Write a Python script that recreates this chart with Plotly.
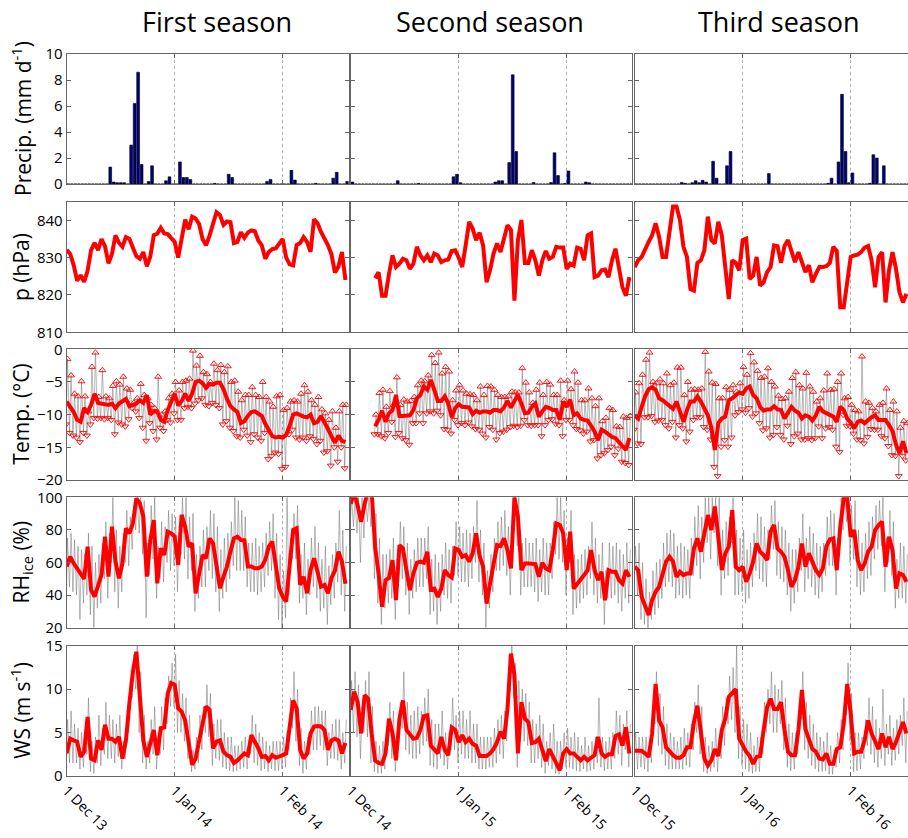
import plotly.graph_objects as go

# ---------------- data (daily values, day 0 = 1 Dec) ----------------
seasons = ["First season", "Second season", "Third season"]
tick_text = [["1 Dec 13", "1 Jan 14", "1 Feb 14"],
             ["1 Dec 14", "1 Jan 15", "1 Feb 15"],
             ["1 Dec 15", "1 Jan 16", "1 Feb 16"]]
tick_days = [0, 31, 62]

precip1 = [0,0,0,0,0,0,0,0,0,0,
           0,0,1.3,0.15,0.1,0.1,0.1,0,3.0,6.2,
           8.6,1.5,0,0.2,1.4,0,0,0,0.25,0.55,
           0,0,1.7,0.5,0.5,0.35,0,0,0,0,
           0,0,0.05,0,0,0,0.75,0.5,0,0,
           0,0,0,0,0,0,0,0.2,0.35,0,
           0,0,0,0,1.05,0.3,0,0,0,0,
           0,0.05,0,0,0,0,0.45,0.9,0,0,
           0.2]
precip2 = [0.15,0,0,0,0,0,0,0,0,0,
           0,0,0,0.25,0,0,0,0,0,0.05,
           0,0,0,0,0,0,0,0,0,0.55,
           0.75,0.1,0,0,0,0,0,0,0,0,
           0,0.15,0.25,0.25,0,1.65,8.4,2.5,0,0,
           0,0,0.12,0,0,0,0,0.12,2.4,0.65,
           0,0.05,1.0,0,0,0,0,0.15,0.1,0,
           0,0,0,0,0,0,0,0,0,0,
           0]
precip3 = [0,0,0,0,0,0,0,0,0,0,
           0,0,0,0.12,0.05,0,0.1,0.25,0.1,0.28,
           0.15,0,1.75,0.45,0,0,1.4,2.5,0,0,
           0,0,0,0,0,0,0,0,0.8,0,
           0,0,0,0,0,0,0,0,0,0,
           0,0,0,0,0,0.05,0.45,0,1.7,6.9,
           2.5,0.1,0.85,0,0,0,0,0.05,2.25,2.0,
           0,1.4,0,0,0,0,0,0,0]

pres1 = [832.1,831.0,828.0,823.8,825.3,823.5,826.5,832.0,834.0,832.0,
         835.0,833.0,828.5,831.0,836.0,834.0,832.9,835.5,835.0,832.8,
         830.4,829.7,831.5,827.7,830.3,836.0,836.4,838.0,836.5,836.3,
         835.2,834.2,830.0,835.0,840.2,837.6,841.0,840.5,839.0,835.0,
         833.3,835.9,839.3,842.2,841.4,838.8,839.7,839.5,833.9,834.2,
         836.8,835.3,836.7,837.3,837.1,834.6,833.3,829.7,831.5,832.3,
         832.5,834.0,835.0,830.0,828.2,827.9,833.4,833.9,835.5,834.2,
         831.6,840.3,839.2,836.9,835.2,833.3,830.9,826.0,827.6,831.5,
         824.0]
pres2 = [None]*7 + [824.5,826.1,819.8,
         819.8,825.7,830.6,827.5,828.4,829.7,829.3,827.0,828.4,832.9,
         830.6,829.3,830.6,828.8,831.1,830.6,828.8,829.3,829.5,831.8,
         832.0,830.0,827.5,833.3,839.6,837.8,834.7,836.7,833.3,823.4,
         826.6,831.1,833.8,831.5,835.1,838.7,837.4,818.5,834.7,840.1,
         828.6,828.6,832.0,829.3,825.2,829.3,831.8,829.7,830.2,832.9,
         832.7,832.7,827.0,828.4,827.9,832.7,832.4,829.3,836.0,836.5,
         824.8,825.2,826.6,826.8,824.8,829.3,832.4,827.0,822.1,819.8,
         824.8]
pres3 = [827.5,829.3,830.2,832.4,834.2,836.0,839.2,835.6,830.2,830.2,
         836.5,843.7,843.7,840.0,832.9,830.2,821.6,821.2,828.6,829.3,
         832.0,841.0,834.7,833.8,839.6,836.0,827.5,818.9,829.3,828.6,
         826.6,834.7,835.1,824.3,825.2,830.2,822.5,823.4,826.1,827.5,
         833.3,833.1,828.6,833.1,834.7,832.0,828.8,831.5,828.4,826.1,
         828.0,823.4,825.7,827.5,827.5,827.7,828.6,832.9,831.8,816.7,
         816.7,823.9,830.2,830.6,830.8,831.5,832.7,833.1,829.3,822.1,
         830.2,831.5,818.0,826.6,831.5,827.0,820.7,818.0,820.3]

tmean1 = [-8.0,-8.8,-9.6,-10.8,-11.1,-9.0,-9.6,-8.5,-6.8,-8.2,
          -8.3,-8.3,-8.5,-8.3,-9.0,-8.3,-8.0,-7.6,-8.7,-8.5,
          -8.3,-7.8,-8.2,-7.0,-10.0,-9.5,-9.5,-10.8,-11.1,-9.3,
          -7.9,-6.8,-8.6,-7.9,-6.8,-7.9,-6.8,-5.0,-4.8,-5.2,
          -5.9,-5.3,-5.4,-5.1,-5.1,-6.1,-7.6,-8.7,-9.2,-9.6,
          -11.3,-11.0,-10.2,-9.6,-9.5,-9.8,-10.2,-11.4,-12.3,-13.3,
          -13.5,-13.4,-13.5,-13.1,-11.7,-10.0,-9.8,-10.1,-10.3,-10.4,
          -10.0,-11.3,-11.1,-10.2,-11.1,-12.2,-13.3,-14.3,-13.2,-14.0,
          -14.2]
tmax1 = [-1.5,-4.0,-6.8,-7.2,-4.9,-7.2,-9.5,-2.7,-0.5,-7.3,
         -3.2,-7.2,-7.5,-5.6,-4.9,-5.4,-4.2,-6.0,-6.2,-8.2,
         -7.5,-5.3,-7.0,-7.5,-8.5,-9.0,-4.2,-10.0,-9.5,-7.5,
         -6.8,-5.0,-6.3,-5.0,-4.8,-4.5,-0.2,-2.5,-1.0,-3.5,
         -3.8,-5.0,-2.2,-3.2,-2.4,-3.5,-2.6,-5.0,-4.8,-6.5,
         -7.8,-7.0,-7.0,-5.8,-7.0,-7.3,-5.0,-7.3,-8.0,-8.8,
         -7.2,-7.0,-9.3,-9.0,-8.0,-7.8,-8.0,-6.8,-5.5,-6.5,
         -7.8,-8.5,-7.3,-9.2,-9.8,-10.8,-9.5,-12.0,-9.5,-8.5,
         -8.5]
tmin1 = [-11.5,-12.8,-13.2,-13.5,-14.2,-12.8,-13.2,-11.5,-10.5,-10.6,
         -10.5,-10.7,-10.5,-10.8,-13.0,-11.2,-11.5,-11.8,-10.7,-9.0,
         -9.5,-10.5,-12.0,-14.0,-11.3,-12.5,-13.8,-12.0,-12.5,-10.8,
         -11.2,-9.8,-10.8,-10.8,-9.0,-8.8,-9.0,-8.3,-7.8,-7.5,
         -8.5,-8.7,-8.2,-8.5,-9.0,-11.5,-11.0,-12.0,-12.5,-13.3,
         -13.5,-12.3,-13.2,-14.2,-13.0,-13.5,-14.0,-12.8,-16.8,-16.3,
         -15.8,-16.0,-18.3,-18.0,-13.0,-12.3,-13.5,-13.8,-13.5,-14.0,
         -13.3,-13.7,-14.5,-14.0,-15.8,-15.6,-17.8,-15.0,-17.2,-15.0,
         -18.2]

tmean2 = [None]*7 + [-11.8,-10.8,-9.4,
          -11.1,-9.8,-9.3,-7.0,-10.2,-10.2,-10.2,-10.1,-9.3,-7.5,
          -7.0,-5.7,-6.2,-4.7,-6.2,-7.9,-7.9,-7.2,-8.3,-10.4,
          -9.0,-8.4,-8.8,-8.9,-8.9,-9.9,-9.4,-9.7,-9.5,-9.5,
          -9.7,-9.3,-9.3,-9.5,-8.9,-7.9,-8.9,-7.9,-7.0,-8.3,
          -9.8,-9.7,-8.8,-8.3,-10.3,-9.5,-8.8,-9.0,-9.3,-9.3,
          -10.8,-8.0,-8.8,-7.7,-10.1,-9.8,-10.6,-10.8,-10.9,-11.7,
          -12.6,-13.9,-12.3,-12.6,-13.1,-13.4,-13.6,-14.1,-14.8,-15.4,
          -13.6]
tmax2 = [None]*7 + [-10.0,-6.7,-6.2,
         -8.8,-6.4,-8.5,-4.3,-8.5,-7.7,-8.0,-7.9,-7.3,-5.5,
         -4.8,-4.9,-4.0,-0.9,-2.1,-0.5,-3.7,-2.7,-3.4,-7.8,
         -6.3,-5.5,-6.3,-6.8,-6.9,-7.0,-7.8,-5.7,-7.0,-5.6,
         -5.7,-6.2,-7.0,-7.3,-7.3,-7.2,-6.5,-6.6,-6.6,-2.9,
         -5.1,-6.6,-8.2,-6.2,-5.1,-7.0,-5.0,-5.4,-7.0,-7.0,
         -4.8,-7.8,-4.8,-6.1,-3.4,-5.1,-7.8,-7.8,-6.0,-7.5,
         -8.7,-7.5,-11.0,-10.5,-9.0,-9.3,-11.8,-11.9,-10.3,-10.5,
         -10.2]
tmin2 = [None]*7 + [-13.0,-13.0,-13.3,
         -13.6,-12.8,-11.1,-13.4,-12.8,-13.6,-13.9,-14.6,-11.3,-11.3,
         -9.8,-11.3,-9.8,-9.5,-9.8,-9.4,-10.1,-12.2,-12.3,-12.9,
         -10.8,-11.6,-11.3,-11.6,-11.2,-11.8,-12.2,-12.3,-12.9,-13.5,
         -11.9,-12.3,-13.8,-12.8,-12.6,-12.3,-11.9,-11.7,-11.9,-11.7,
         -10.8,-11.6,-11.7,-11.6,-11.6,-13.3,-11.6,-10.8,-10.7,-11.4,
         -11.6,-13.3,-10.8,-10.8,-11.6,-12.2,-12.4,-12.9,-12.6,-14.1,
         -13.9,-16.7,-16.2,-15.9,-15.4,-14.9,-16.2,-15.2,-17.2,-17.4,
         -17.7]

tmean3 = [-10.1,-10.6,-8.8,-7.2,-6.1,-5.8,-6.2,-7.5,-7.8,-8.3,
          -8.7,-9.1,-8.0,-9.5,-11.1,-9.3,-8.0,-8.0,-7.2,-8.0,
          -9.0,-10.1,-12.0,-15.4,-11.3,-10.6,-10.3,-7.8,-7.5,-7.0,
          -6.6,-6.8,-6.0,-5.7,-7.0,-7.5,-8.8,-9.4,-9.2,-9.2,
          -8.7,-9.2,-9.3,-10.6,-9.8,-8.8,-9.4,-9.7,-10.6,-10.1,
          -10.3,-10.9,-10.1,-8.8,-9.5,-9.8,-10.1,-10.3,-11.1,-8.8,
          -9.3,-10.6,-11.2,-12.1,-11.1,-10.9,-11.3,-10.8,-10.4,-10.1,
          -10.8,-10.8,-10.8,-11.6,-12.5,-14.6,-15.9,-14.1,-15.9]
tmax3 = [-6.6,-5.2,-3.9,-1.6,-0.5,-5.0,-5.2,-4.6,-5.2,-3.7,
         -5.5,-5.1,-2.8,-2.8,-7.0,-5.0,-6.2,-6.1,-6.2,-6.0,
         -0.4,-3.4,-5.1,-5.3,-7.5,-7.5,-5.8,-6.2,-5.5,-6.5,
         -5.2,-2.7,-3.9,-0.6,-2.0,-3.3,-4.4,-4.2,-2.9,-5.0,
         -5.7,-7.1,-7.6,-7.5,-6.5,-4.4,-3.5,-5.5,-6.0,-3.6,
         -5.7,-6.5,-8.0,-7.5,-6.3,-3.7,-6.2,-6.1,-5.0,-3.7,
         -7.5,-7.3,-8.5,-9.3,-9.5,-1.1,-8.0,-8.2,-9.0,-9.5,
         -8.5,-8.2,-6.0,-9.3,-8.0,-9.5,-12.0,-11.0,-11.3]
tmin3 = [-12.3,-14.4,-14.5,-10.4,-10.4,-10.2,-11.1,-10.9,-10.8,-11.6,
         -12.1,-11.1,-13.5,-11.6,-12.1,-14.1,-12.6,-10.8,-10.4,-10.4,
         -11.9,-12.3,-13.8,-18.0,-19.4,-14.9,-13.9,-14.9,-13.5,-10.1,
         -9.6,-9.2,-9.7,-9.0,-10.3,-9.8,-11.3,-12.4,-12.1,-13.5,
         -13.1,-11.9,-13.1,-13.8,-11.7,-14.5,-13.3,-12.9,-13.8,-13.8,
         -13.6,-13.9,-13.6,-11.8,-13.6,-12.1,-11.9,-12.3,-14.9,-15.7,
         -10.0,-11.7,-11.8,-12.9,-13.8,-13.9,-14.4,-13.4,-12.2,-12.3,
         -12.3,-13.3,-13.6,-14.8,-16.2,-16.3,-19.4,-16.3,-17.0]

rh1 = [57.5,63.6,59.5,56.4,52.4,50.0,69.7,43.1,39.1,45.2,
       52.4,75.9,51.3,82.0,60.5,50.3,59.5,81.0,77.9,84.0,
       99.4,96.3,88.1,51.3,73.8,86.0,47.2,68.7,64.6,78.9,
       77.9,75.9,58.5,89.2,82.0,69.7,71.8,41.1,53.4,64.6,
       62.6,74.8,71.8,59.5,44.2,51.3,57.5,66.7,74.8,75.9,
       73.8,73.6,57.5,57.5,56.4,56.4,57.5,61.6,69.7,72.8,
       57.5,44.2,39.1,36.0,58.5,80.0,81.0,46.2,51.3,41.1,
       55.4,62.6,54.4,45.2,46.2,41.1,50.5,55.0,66.7,60.5,
       47.0]
rh1_max = [75,78,74,70,68,65,78,70,60,65,
           72,85,78,100,80,70,78,92,88,95,
           100,100,98,72,95,100,70,85,82,92,
           90,88,78,100,100,88,90,65,70,80,
           82,92,90,82,68,75,78,85,100,98,
           92,88,72,72,75,70,72,78,85,90,
           78,65,55,100,75,90,95,65,72,62,
           75,82,72,62,70,58,65,72,92,80,
           70]
rh1_min = [30,45,42,40,25,35,40,28,20,32,
           35,50,38,60,42,32,42,60,58,68,
           80,78,65,26,52,62,38,50,48,60,
           55,58,42,65,62,50,55,30,38,45,
           45,55,50,42,30,38,42,50,58,55,
           55,55,45,42,42,40,42,45,52,55,
           38,25,20,26,40,62,62,35,38,28,
           40,45,38,30,32,22,34,38,48,40,
           30]
rh2 = [96.0,103.0,95.0,85.0,96.0,104.0,104.0,69.7,53.3,32.8,
       49.2,50.5,61.5,36.9,70.7,68.6,55.3,43.0,53.3,59.8,
       60.5,59.8,66.6,43.4,44.0,38.9,44.0,55.3,52.3,50.8,
       68.6,67.6,63.5,64.5,60.5,65.6,77.9,63.9,57.4,34.8,
       47.1,59.8,70.7,70.1,74.8,67.6,56.4,100.0,88.1,55.3,
       59.4,59.4,59.4,59.0,51.2,59.8,56.4,55.3,67.6,84.0,
       83.0,77.9,55.3,78.9,44.0,47.1,50.2,52.3,55.3,67.6,
       55.3,49.2,54.3,36.9,55.3,54.3,54.3,49.2,47.1,55.3,
       51.2]
rh2_max = [100,100,100,100,100,100,100,90,75,65,
           65,68,75,62,85,82,72,62,68,75,
           75,75,82,62,65,60,65,72,68,70,
           85,82,78,80,78,82,98,80,72,55,
           65,75,85,88,92,82,75,100,100,72,
           75,72,72,75,68,75,72,72,85,100,
           100,92,75,92,65,62,65,68,70,85,
           75,65,72,55,72,70,72,68,65,72,
           68]
rh2_min = [80,82,78,60,75,85,82,50,35,22,
           32,35,38,25,52,50,40,28,38,42,
           45,45,50,28,30,22,30,40,38,35,
           52,52,48,48,45,50,60,48,40,20,
           32,42,55,55,58,52,40,78,70,40,
           45,45,45,42,36,42,40,40,50,65,
           62,60,40,60,28,32,35,38,40,50,
           40,35,38,22,38,38,40,35,30,38,
           35]
rh3 = [57.4,55.3,38.9,33.8,27.7,36.9,42.0,45.1,53.3,60.5,
       63.5,60.5,51.2,54.3,52.3,53.3,53.3,68.6,74.8,66.6,
       77.9,89.1,79.9,94.3,75.8,55.3,65.6,69.7,92.2,57.4,
       55.3,57.4,48.2,53.3,60.5,71.7,66.6,64.5,61.5,78.9,
       83.0,68.6,66.6,63.5,55.3,45.1,49.2,57.4,71.7,57.4,
       65.6,60.5,55.3,52.3,56.4,69.7,74.2,74.8,55.3,82.0,
       99.4,100.0,75.8,79.9,61.5,55.3,59.4,66.6,69.7,79.9,
       83.0,85.0,57.4,75.8,67.6,44.0,53.3,52.3,48.2]
rh3_max = [70,72,60,50,42,55,60,62,72,78,
           80,78,70,72,70,68,75,88,95,88,
           100,100,100,100,100,80,85,88,100,80,
           75,80,68,72,78,90,88,82,80,95,
           98,85,82,80,72,68,68,75,90,75,
           82,78,72,70,72,88,92,90,75,100,
           100,100,95,98,80,72,78,85,88,95,
           98,100,75,92,85,62,72,70,65]
rh3_min = [42,40,25,22,18,25,28,32,38,45,
           48,45,38,40,38,40,38,52,58,50,
           60,72,62,78,58,40,50,52,72,40,
           40,42,35,38,45,55,50,48,45,62,
           68,52,50,48,40,30,35,42,55,42,
           50,45,40,38,42,52,58,58,40,65,
           80,85,60,62,45,40,42,50,52,62,
           68,70,42,60,52,32,38,38,35]

ws1 = [2.6,4.3,4.1,3.95,2.2,2.8,6.8,2.0,1.8,4.1,
       3.0,5.9,4.3,4.3,3.95,4.5,2.0,4.1,8.4,12.0,
       14.3,8.4,4.1,2.2,3.6,5.3,2.4,5.5,5.6,9.5,
       10.7,10.5,7.8,7.4,6.4,4.1,1.3,2.0,4.1,6.1,
       8.0,7.6,3.2,3.95,4.1,2.8,2.4,2.2,1.5,1.8,
       2.2,2.6,2.4,4.7,3.95,3.2,2.2,2.3,1.8,2.4,
       2.1,2.2,2.4,2.6,6.1,8.7,7.8,3.0,2.0,2.6,
       4.9,5.7,5.75,5.7,5.3,3.0,4.1,4.3,4.1,2.6,
       3.8]
ws1_max = [6.5,7.5,6,5.5,5,5,9,4,4.5,7,
           5.5,8.5,7,6.5,6,7,4,6.5,11,14,
           15,12,7,4,6.5,8,5,8,9,11.5,
           13,14,11,9.5,9,7,3,4.5,7,8,
           10.5,9.5,6,6.5,6.5,5,4.5,4.5,3.5,3.5,
           4,4.5,4,7,6,5,4.5,4,3.5,4,
           4,4,4.5,5,9,12,10,5.5,4,4.5,
           7.5,8,8,7.5,7.5,5,6,6.5,6.5,5,
           6.5]
ws1_min = [0.5,1.5,1.5,1.5,0.8,1,2.5,0.5,0.3,1.5,
           1.2,2.5,2,2,1.5,2.2,0.8,2,5,9,
           10,5,1.5,0.8,1.5,2.5,0.8,2.5,3,6,
           8,8,5,5,4,2,0.5,0.8,1.5,3,
           5,4.5,1.2,2,1.8,1,0.8,0.6,0.5,0.6,
           0.8,1,0.8,2.5,1.5,1.2,0.6,0.8,0.5,0.8,
           0.6,0.6,0.8,1,3,5.5,4,1.2,0.3,0.8,
           2.5,3,3,3.5,3,1.2,2,2,1.8,0.8,
           1.5]
ws2 = [7.6,9.7,8.5,4.9,9.3,8.9,4.9,1.8,1.5,1.4,
       2.6,6.6,4.9,1.8,6.6,8.7,5.3,4.7,4.3,4.4,
       5.3,6.9,7.0,3.5,3.1,2.6,4.5,3.0,2.4,5.6,
       5.3,3.9,4.7,3.9,4.3,3.7,3.5,2.3,2.3,2.3,
       2.6,3.1,3.9,5.1,4.3,7.7,14.1,11.6,2.6,8.5,
       6.6,6.2,3.8,3.9,4.3,3.0,1.7,3.1,2.3,1.5,
       0.65,2.6,3.1,2.6,2.6,2.2,1.8,2.2,1.8,2.1,
       2.4,4.5,2.6,2.2,2.5,2.5,4.6,4.8,3.5,5.6,
       2.6]
ws2_max = [11,12,10.5,8,11,12,8,4,3.5,4,
           5,8.5,7.5,4,8.5,12,8.5,7,7.5,8,
           7.5,9,10,6.5,6,6,7.5,5,5,9,
           7,7.5,7.5,6.5,7.5,6,6,4.5,4.5,4.5,
           4.5,5.5,6.5,7,7.5,8.5,15,13,11,10,
           9.5,8.5,6.5,6,7,6,4,5,6,4,
           4,5,5.5,4.5,5,4.5,3.5,4.5,3.5,4,
           4.5,9,4.5,4,4.5,5,7.5,7,6,7.5,
           6]
ws2_min = [4,5,4.5,2,5,4.5,1.5,0.5,0.3,0.3,
           0.8,3.5,2,0.5,3.5,5.5,3,2.5,2,2,
           2.5,3.5,4,1.2,1,0.8,2,1.2,0.8,3,
           3,1.5,2.5,2,2,1.5,1.5,0.8,0.8,0.8,
           1,1,1.5,2.5,2,4,10,9,1,5.5,
           4,3.5,1.5,1.5,2,1,0.3,1.2,0.8,0.3,
           0.2,0.8,1,1,0.8,0.6,0.5,0.8,0.5,0.6,
           0.8,1.5,1,0.6,0.8,0.8,2,2.5,1.2,3,
           1]
ws3 = [2.9,2.9,2.9,2.6,2.2,4.9,10.6,6.4,5.6,3.3,
       2.8,2.4,2.1,2.1,2.4,3.3,3.3,6.2,8.1,5.3,
       2.0,1.2,1.8,3.1,2.3,5.3,6.6,9.1,9.5,10.0,
       4.3,3.5,2.8,2.3,1.4,2.2,2.3,5.3,7.9,8.9,
       7.7,7.7,8.5,5.3,2.8,2.4,2.4,5.3,9.9,5.4,
       4.1,3.1,2.8,2.0,1.9,2.6,1.4,1.4,3.1,3.3,
       6.0,10.6,7.2,2.6,2.8,2.8,4.1,6.4,4.9,3.9,
       3.1,4.9,3.3,4.5,3.1,3.9,4.9,6.2,4.9]
ws3_max = [5,4.5,4.5,4.5,4,7.5,12,9.5,8,6,
           5,4.5,4,4.5,5.5,5,6,8.5,10.5,8,
           4.5,3.5,4,5.5,4.5,8,9,11.5,12.5,15,
           8,6.5,6,5,3.5,4.5,4.5,8.5,10,12,
           10.5,10,11,9,6,5,5,8,12,8.5,
           7,6,5,4.5,4,5,3.5,3,5,6.5,
           9,13,9.5,5,5,4.5,6.5,9,8,6.5,
           5.5,10,6,7,5.5,6.5,7,9,7.5]
ws3_min = [0.8,0.8,1,0.8,0.5,1.5,6,3.5,2.5,1.2,
           0.8,0.8,0.8,0.8,0.8,1.2,1,3,5,2.5,
           0.5,0.3,0.5,1,0.5,2,3.5,6,6.5,5,
           2,1.2,0.8,0.5,0.3,0.5,0.5,2.5,5,6,
           5,5,6,3,1,0.6,0.8,2.5,6.5,3,
           2,1.2,0.8,0.5,0.5,0.6,0.2,0.2,1,1.5,
           3,7,4,0.5,0.6,0.8,2,3.5,2.5,1.5,
           1,2,1.2,2.5,1.2,1.8,2.5,3.5,1.5]

precip = [precip1, precip2, precip3]
pres = [pres1, pres2, pres3]
tmean = [tmean1, tmean2, tmean3]
tmax = [tmax1, tmax2, tmax3]
tmin = [tmin1, tmin2, tmin3]
rh = [rh1, rh2, rh3]
rh_max = [rh1_max, rh2_max, rh3_max]
rh_min = [rh1_min, rh2_min, rh3_min]
ws = [ws1, ws2, ws3]
ws_max = [ws1_max, ws2_max, ws3_max]
ws_min = [ws1_min, ws2_min, ws3_min]

y_titles = ["Precip. (mm d<sup>-1</sup>)", "p (hPa)", "Temp. (\u00b0C)",
            "RH<sub>ice</sub> (%)", "WS (m s<sup>-1</sup>)"]
y_ranges = [[0, 10], [810, 845], [-20, 0], [20, 100], [0, 15]]
y_ticks = [[0, 2, 4, 6, 8, 10], [810, 820, 830, 840], [-20, -15, -10, -5, 0],
           [20, 40, 60, 80, 100], [0, 5, 10, 15]]

# ---------------- layout geometry ----------------
W, H = 908, 838
col_px = [(66.7, 348.7), (350.7, 632.3), (634.7, 908.0)]
row_px = [(54.0, 184.0), (201.7, 332.3), (349.3, 480.0), (497.3, 627.7), (645.7, 776.0)]
PX_PER_DAY = 3.484
FONT = "Open Sans, Liberation Sans, Arial, sans-serif"
AX = "#666666"
RED = "#ff0000"
GRAY = "rgba(105,105,105,0.6)"

fig = go.Figure()


def zig(mx, mn):
    xs, ys = [], []
    for d, (a, b) in enumerate(zip(mx, mn)):
        if a is None or b is None:
            xs.append(None); ys.append(None)
            continue
        xs += [d - 0.2, d + 0.25]
        ys += [b, a]
    return xs, ys


def days(arr):
    return list(range(len(arr)))


layout_axes = {}
for r in range(5):
    for c in range(3):
        i = r * 3 + c + 1
        xa = "x" if i == 1 else f"x{i}"
        ya = "y" if i == 1 else f"y{i}"
        x0, x1 = col_px[c]
        y0, y1 = row_px[r]
        layout_axes[f"xaxis{'' if i == 1 else i}"] = dict(
            domain=[x0 / W, x1 / W], anchor=ya, automargin=False,
            range=[0, (x1 - x0) / PX_PER_DAY],
            tickmode="array", tickvals=tick_days, ticktext=tick_text[c],
            showticklabels=(r == 4), tickangle=45,
            tickfont=dict(size=14, color="black", family=FONT),
            ticks="inside", ticklen=4, tickcolor=AX,
            showline=True, linecolor=AX, linewidth=1, mirror="ticks",
            showgrid=True, gridcolor="#b0b0b0", griddash="dot", gridwidth=1,
            zeroline=False,
        )
        layout_axes[f"yaxis{'' if i == 1 else i}"] = dict(
            domain=[1 - y1 / H, 1 - y0 / H], anchor=xa, automargin=False,
            range=y_ranges[r], tickmode="array", tickvals=y_ticks[r],
            showticklabels=(c == 0),
            tickfont=dict(size=15, color="black", family=FONT),
            ticks="inside", ticklen=4, tickcolor=AX,
            showline=True, linecolor=AX, linewidth=1,
            mirror=("ticks" if c < 2 else False),
            showgrid=False, zeroline=False,
        )

        if r == 0:
            fig.add_trace(go.Bar(x=[d + 0.5 for d in days(precip[c])], y=precip[c], width=0.8,
                                 marker=dict(color="#000080", line=dict(color="black", width=0.6)),
                                 xaxis=xa, yaxis=ya, showlegend=False))
        elif r == 1:
            fig.add_trace(go.Scatter(x=days(pres[c]), y=pres[c], mode="lines",
                                     line=dict(color=RED, width=4), xaxis=xa, yaxis=ya,
                                     showlegend=False))
        elif r == 2:
            gx, gy = zig(tmax[c], tmin[c])
            fig.add_trace(go.Scatter(x=gx, y=gy, mode="lines", line=dict(color=GRAY, width=0.8),
                                     xaxis=xa, yaxis=ya, showlegend=False))
            fig.add_trace(go.Scatter(x=[d + 0.25 for d in days(tmax[c])], y=tmax[c], mode="markers",
                                     marker=dict(symbol="triangle-up-open", size=6, color=RED,
                                                 line=dict(width=0.9, color=RED)),
                                     xaxis=xa, yaxis=ya, showlegend=False))
            fig.add_trace(go.Scatter(x=[d - 0.2 for d in days(tmin[c])], y=tmin[c], mode="markers",
                                     marker=dict(symbol="triangle-down-open", size=6, color=RED,
                                                 line=dict(width=0.9, color=RED)),
                                     xaxis=xa, yaxis=ya, showlegend=False))
            fig.add_trace(go.Scatter(x=days(tmean[c]), y=tmean[c], mode="lines",
                                     line=dict(color=RED, width=4), xaxis=xa, yaxis=ya,
                                     showlegend=False))
        else:
            mx = rh_max[c] if r == 3 else ws_max[c]
            mn = rh_min[c] if r == 3 else ws_min[c]
            mean = rh[c] if r == 3 else ws[c]
            gx, gy = zig(mx, mn)
            fig.add_trace(go.Scatter(x=gx, y=gy, mode="lines", line=dict(color=GRAY, width=0.8),
                                     xaxis=xa, yaxis=ya, showlegend=False))
            fig.add_trace(go.Scatter(x=days(mean), y=mean, mode="lines",
                                     line=dict(color=RED, width=4), xaxis=xa, yaxis=ya,
                                     showlegend=False))

annotations = []
title_cx = [217, 490, 779]
for c, name in enumerate(seasons):
    annotations.append(dict(text=name, x=title_cx[c] / W, y=1 - 22 / H, xref="paper", yref="paper",
                            showarrow=False, xanchor="center", yanchor="middle",
                            font=dict(size=27, color="black", family=FONT)))
for r, t in enumerate(y_titles):
    y0, y1 = row_px[r]
    annotations.append(dict(text=t, x=21 / W, y=1 - ((y0 + y1) / 2) / H, xref="paper", yref="paper",
                            showarrow=False, textangle=-90, xanchor="center", yanchor="middle",
                            font=dict(size=21, color="black", family=FONT)))

fig.update_layout(width=W, height=H, margin=dict(l=0, r=0, t=0, b=0, pad=0),
                  paper_bgcolor="white", plot_bgcolor="white", barmode="overlay",
                  annotations=annotations, **layout_axes)
fig.write_html("out.html", config={"responsive": False, "displayModeBar": False},
               post_script="document.body.style.margin='0';document.body.style.overflow='hidden';")
